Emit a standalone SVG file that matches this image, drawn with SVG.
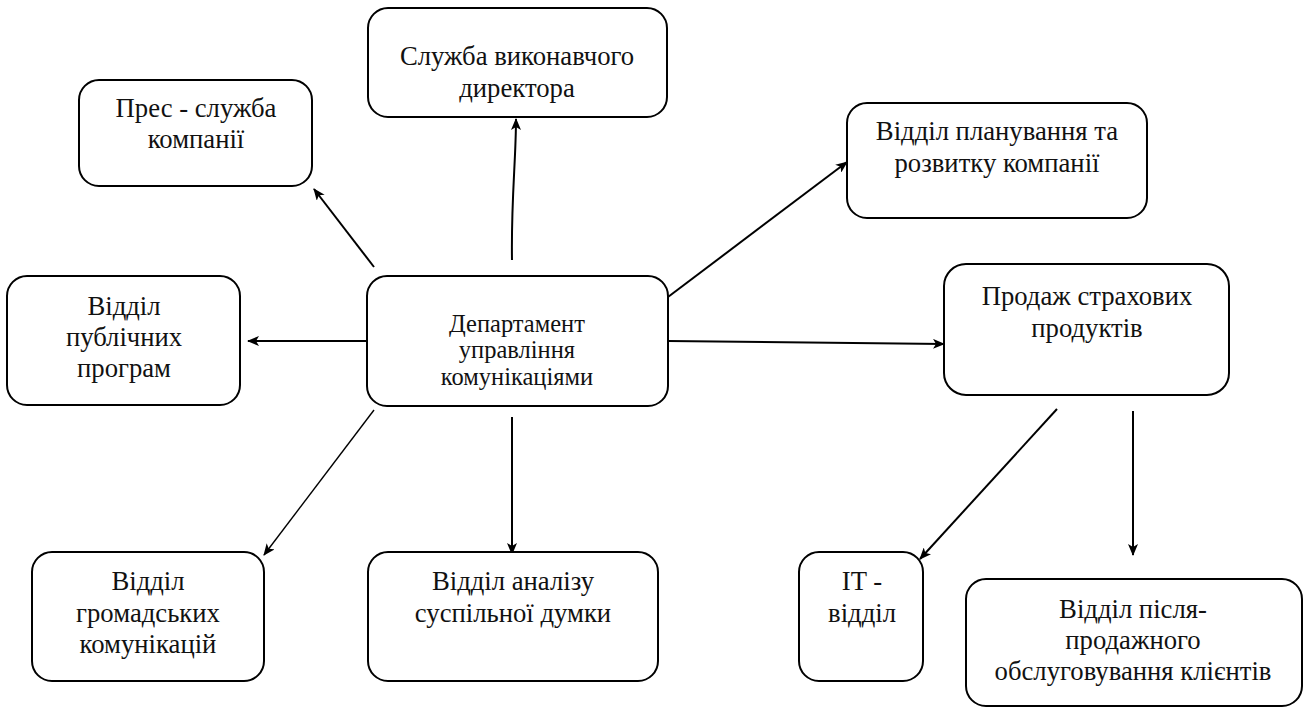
<svg xmlns="http://www.w3.org/2000/svg" width="1309" height="708" viewBox="0 0 1309 708">
<style>
.box{fill:#fff;stroke:#000;stroke-width:2}
.t{font-family:'Liberation Serif','DejaVu Serif',serif;font-size:26.7px;fill:#111;text-anchor:middle}
.tc{font-family:'Liberation Serif','DejaVu Serif',serif;font-size:24.5px;fill:#111;text-anchor:middle}
.c{fill:none;stroke:#000;stroke-width:2}
.ct{fill:none;stroke:#000;stroke-width:1.4}
</style>
<defs>
<marker id="a" viewBox="0 0 12 10" refX="11" refY="5" markerWidth="12" markerHeight="10" markerUnits="userSpaceOnUse" orient="auto">
<path d="M0,0 L12,5 L0,10 L3,5 Z" fill="#000"/>
</marker>
</defs>
<rect width="1309" height="708" fill="#fff"/>
<g id="connectors">
<line class="c" x1="374" y1="267" x2="314" y2="189" marker-end="url(#a)"/>
<path class="c" d="M512,260 C511,200 516,160 516,119" marker-end="url(#a)"/>
<line class="c" x1="668" y1="297" x2="847" y2="162" marker-end="url(#a)"/>
<line class="c" x1="367" y1="341" x2="248" y2="341" marker-end="url(#a)"/>
<line class="c" x1="668" y1="341" x2="944" y2="344" marker-end="url(#a)"/>
<line class="ct" x1="374" y1="410" x2="264" y2="555" marker-end="url(#a)"/>
<line class="c" x1="512" y1="417" x2="512" y2="554" marker-end="url(#a)"/>
<line class="c" x1="1057" y1="409" x2="920" y2="559" marker-end="url(#a)"/>
<line class="c" x1="1133" y1="411" x2="1133" y2="555" marker-end="url(#a)"/>
</g>
<g id="n-sluzhba">
<rect class="box" x="368" y="8" width="299" height="109" rx="20"/>
<text class="t" x="517" y="65">Служба виконавчого</text>
<text class="t" x="517" y="97">директора</text>
</g>
<g id="n-pres">
<rect class="box" x="79" y="80" width="233" height="106" rx="20"/>
<text class="t" x="196" y="117">Прес - служба</text>
<text class="t" x="196" y="148">компанії</text>
</g>
<g id="n-planuv">
<rect class="box" x="847" y="103" width="300" height="115" rx="20"/>
<text class="t" x="997" y="140">Відділ планування та</text>
<text class="t" x="997" y="172">розвитку компанії</text>
</g>
<g id="n-dep">
<rect class="box" x="367" y="276" width="301" height="130" rx="20"/>
<text class="tc" x="517" y="332">Департамент</text>
<text class="tc" x="517" y="358">управління</text>
<text class="tc" x="517" y="385">комунікаціями</text>
</g>
<g id="n-prodazh">
<rect class="box" x="944" y="264" width="285" height="131" rx="22"/>
<text class="t" x="1087" y="305">Продаж страхових</text>
<text class="t" x="1087" y="337">продуктів</text>
</g>
<g id="n-publ">
<rect class="box" x="7" y="276" width="233" height="129" rx="20"/>
<text class="t" x="124" y="315">Відділ</text>
<text class="t" x="124" y="346">публічних</text>
<text class="t" x="124" y="377">програм</text>
</g>
<g id="n-hromad">
<rect class="box" x="32" y="552" width="232" height="129" rx="20"/>
<text class="t" x="148" y="590">Відділ</text>
<text class="t" x="148" y="622">громадських</text>
<text class="t" x="148" y="653">комунікацій</text>
</g>
<g id="n-analiz">
<rect class="box" x="368" y="552" width="290" height="129" rx="20"/>
<text class="t" x="513" y="590">Відділ аналізу</text>
<text class="t" x="513" y="622">суспільної думки</text>
</g>
<g id="n-it">
<rect class="box" x="799" y="552" width="124" height="129" rx="20"/>
<text class="t" x="862" y="590">IT -</text>
<text class="t" x="862" y="622">відділ</text>
</g>
<g id="n-pislia">
<rect class="box" x="966" y="579" width="336" height="127" rx="20"/>
<text class="t" x="1133" y="618">Відділ після-</text>
<text class="t" x="1133" y="649">продажного</text>
<text class="t" x="1133" y="680">обслуговування клієнтів</text>
</g>
</svg>
